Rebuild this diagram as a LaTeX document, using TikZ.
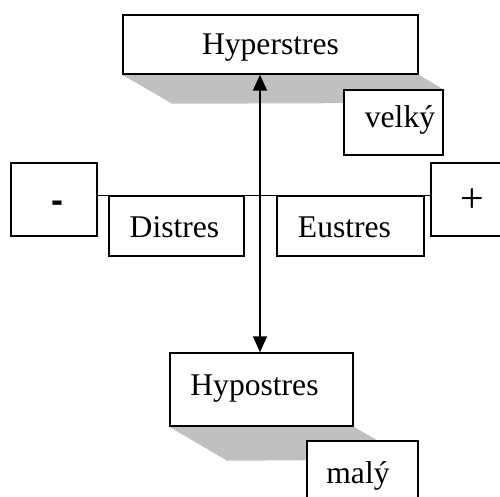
\documentclass[tikz,border=0pt]{standalone}
\usepackage{fontspec}
\setmainfont{Liberation Serif}
\newfontfamily\arialfont{Liberation Sans}
\usetikzlibrary{arrows.meta,calc}
\definecolor{shadowgray}{HTML}{C0C0C0}
\begin{document}
\begin{tikzpicture}[x=1pt,y=-1pt,
  box/.style={draw=black,line width=1.5pt,fill=white,rectangle,inner sep=0pt},
  lbl/.style={anchor=base,inner sep=0pt,font=\fontsize{31.6}{38}\selectfont},
  shadowfill/.style={fill=shadowgray,draw=none},
  conn/.style={line width=1.2pt},
  dblarrow/.style={line width=1.8pt,{Triangle[width=14pt,length=16pt]}-{Triangle[width=14pt,length=16pt]}}]
\useasboundingbox (0,0) rectangle (500,497);
% boxes with shadows
\node[box,minimum width=295pt,minimum height=59pt,draw=none,fill=none] (hyperB) at (270.5,44.5) {};
\fill[shadowfill] (hyperB.south west) -- ++(50,29) -- (400,103) -- ($(hyperB.south east)+(26,15.5)$) -- (hyperB.south east) -- cycle;
\node[box,minimum width=295pt,minimum height=59pt] (hyper) at (270.5,44.5) {};
\node[box,minimum width=99pt,minimum height=65pt] (velky) at (393.5,122.5) {};
\node[box,minimum width=183pt,minimum height=73pt,draw=none,fill=none] (hypoB) at (261.5,389.5) {};
\fill[shadowfill] (hypoB.south west) -- ++(58,34) -- (340,460) -- ($(hypoB.south east)+(26,15)$) -- (hypoB.south east) -- cycle;
\node[box,minimum width=183pt,minimum height=73pt] (hypo) at (261.5,389.5) {};
\node[box,minimum width=111pt,minimum height=65pt] (maly) at (362.5,473.5) {};
\node[box,minimum width=86pt,minimum height=73pt] (minus) at (54,199.5) {};
\node[box,minimum width=86pt,minimum height=73pt] (plus) at (474,199.5) {};
\node[box,minimum width=135pt,minimum height=60pt] (dis) at (176.5,226) {};
\node[box,minimum width=147pt,minimum height=60pt] (eu) at (350.5,226) {};
% connectors
\draw[conn] (minus.east |- dis.north) -- (plus.west |- dis.north);
\coordinate (ax) at (260,0);
\draw[dblarrow] (ax |- hyper.south) -- (ax |- hypo.north);
% texts
\node[lbl] (hyperT) at (270.5,55) {Hyperstres};
\node[lbl] (velkyT) at (400,128) {velký};
\node[lbl] (disT) at (174.5,237) {Distres};
\node[lbl] (euT) at (344.5,237) {Eustres};
\node[lbl] (hypoT) at (254.5,395) {Hypostres};
\node[lbl] (malyT) at (358,483) {malý};
\node[anchor=base,inner sep=0pt,font=\arialfont\bfseries\fontsize{36}{40}\selectfont] (minusT) at (57,212) {-};
\node[anchor=base,inner sep=0pt,font=\fontsize{42}{46}\selectfont] (plusT) at (472,212.5) {+};
\end{tikzpicture}
\end{document}
